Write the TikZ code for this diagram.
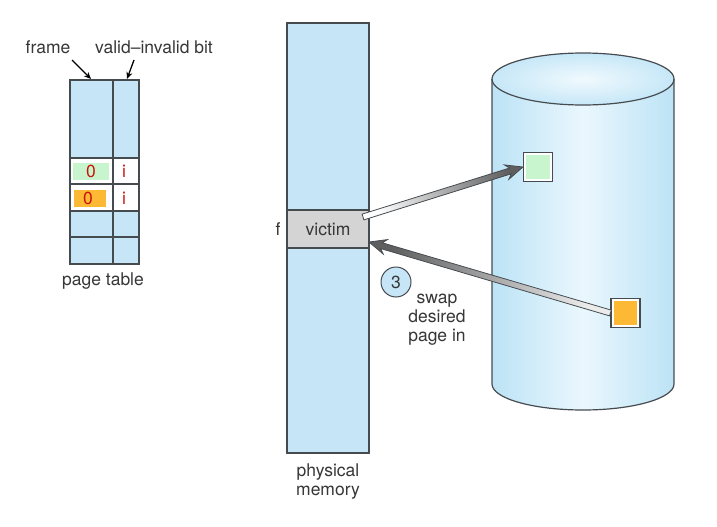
\documentclass[tikz,border=0pt]{standalone}
\usepackage{fontspec}
\setmainfont{TeX Gyre Heros}
\usetikzlibrary{calc,arrows.meta}
\definecolor{pblue}{RGB}{198,230,247}
\definecolor{cylside}{RGB}{188,227,246}
\definecolor{cylmid}{RGB}{234,247,253}
\definecolor{lgreen}{RGB}{200,245,206}
\definecolor{orng}{RGB}{253,184,52}
\definecolor{vgray}{RGB}{212,212,212}
\definecolor{edge}{RGB}{70,75,80}
\definecolor{txt}{RGB}{55,55,55}
\definecolor{redtxt}{RGB}{200,20,10}
\definecolor{arrdark}{RGB}{95,95,95}
\tikzset{
  lbl/.style={text=txt, font=\fontsize{17.5}{19}\selectfont, inner sep=0pt, align=center},
  redlbl/.style={text=redtxt, font=\fontsize{17.5}{19}\selectfont, inner sep=0pt},
  boxline/.style={draw=edge, line width=1.2pt},
  smallarrow/.style={-{Stealth[length=7pt,width=6pt]}, line width=1.3pt, black},
  fatarrow/.style={draw=edge, line width=0.8pt},
  disksq/.style={draw=edge, line width=1.2pt, fill=white, minimum size=29pt, inner sep=0pt},
}
\newcommand{\fatarrowpath}[4]{% #1 tail, #2 head, #3 tail colour, #4 angle
  \path[fatarrow, left color=#3, right color=arrdark, shading angle=#4]
    ($(#1)!3pt!90:(#2)$) --
    ($($(#2)!13pt!(#1)$)!3pt!-90:(#1)$) --
    ($($(#2)!17pt!(#1)$)!7.5pt!-90:(#1)$) --
    (#2) --
    ($($(#2)!17pt!(#1)$)!7.5pt!90:(#1)$) --
    ($($(#2)!13pt!(#1)$)!3pt!90:(#1)$) --
    ($(#1)!3pt!-90:(#2)$) -- cycle;}
\begin{document}
\begin{tikzpicture}[x=1pt,y=-1pt]
\useasboundingbox[fill=white] (0,0) rectangle (717,527);

% ---------- page table ----------
\fill[pblue] (70,80) rectangle (139,264);
\fill[white] (70,158) rectangle (139,211);
\fill[lgreen] (73,163) rectangle (109,180);
\fill[orng] (74,190) rectangle (106,207);
\draw[boxline] (70,80) rectangle (139,264);
\draw[boxline] (113,80) -- (113,264);
\foreach \yy in {158,184,211,237} \draw[boxline] (70,\yy) -- (139,\yy);
\node[redlbl] (z1) at (91,171) {0};
\node[redlbl] (z2) at (88,198) {0};
\node[redlbl] (i1) at (124,171) {i};
\node[redlbl] (i2) at (124,198) {i};
\node[lbl] (frame) at (48,47) {frame};
\node[lbl] (vib) at (154,47) {valid–invalid bit};
\coordinate (fcol) at (91,79);
\coordinate (vcol) at (127,79);
\draw[smallarrow] (72,60) -- (fcol);
\draw[smallarrow] (134,60) -- (vcol);
\node[lbl] (pt) at (103,281) {page table};

% ---------- physical memory ----------
\fill[pblue] (287,23) rectangle (369,453);
\fill[vgray] (287,210) rectangle (369,248);
\draw[boxline] (287,23) rectangle (369,453);
\draw[boxline] (287,210) -- (369,210);
\draw[boxline] (287,248) -- (369,248);
\node[lbl] (victim) at (328,229) {victim};
\node[lbl] (f) at (278,229) {f};
\node[lbl] (pm) at (328,482) {physical\\memory};

% ---------- disk ----------
\shade[left color=cylside, right color=cylside, middle color=cylmid]
  (492,79) -- (492,384) arc[start angle=180, end angle=360, x radius=91pt, y radius=26pt]
  -- (674,79) arc[start angle=0, end angle=180, x radius=91pt, y radius=26pt] -- cycle;
\shade[inner color=cylmid!70!white, outer color=cylside!85!white]
  (583,79) ellipse [x radius=91pt, y radius=26pt];
\draw[boxline] (583,79) ellipse [x radius=91pt, y radius=26pt];
\draw[boxline] (492,79) -- (492,384) arc[start angle=180, end angle=360, x radius=91pt, y radius=26pt] -- (674,79);

\node[disksq] (gsq) at (538,167) {};
\fill[lgreen] ($(gsq.south west)+(3.5,-3.5)$) rectangle ($(gsq.north east)+(-3.5,3.5)$);
\node[disksq] (osq) at (625.5,313) {};
\fill[orng] ($(osq.south west)+(3.5,-3.5)$) rectangle ($(osq.north east)+(-3.5,3.5)$);

% ---------- fat arrows ----------
\coordinate (a1t) at (363,217);
\coordinate (a1h) at (gsq.west);
\coordinate (a2t) at (osq.west);
\coordinate (a2h) at (369,242);
\fatarrowpath{a1t}{a1h}{white}{107.7}
\fatarrowpath{a2t}{a2h}{white!85!gray}{253.6}

% ---------- step 3 ----------
\node[circle, draw=edge, line width=1pt, fill=pblue, minimum size=30pt, inner sep=0pt,
      text=txt, font=\fontsize{17.5}{19}\selectfont] (three) at (396,282) {3};
\node[lbl] (swap) at (437,320) {swap\\desired\\page in};
\end{tikzpicture}
\end{document}
